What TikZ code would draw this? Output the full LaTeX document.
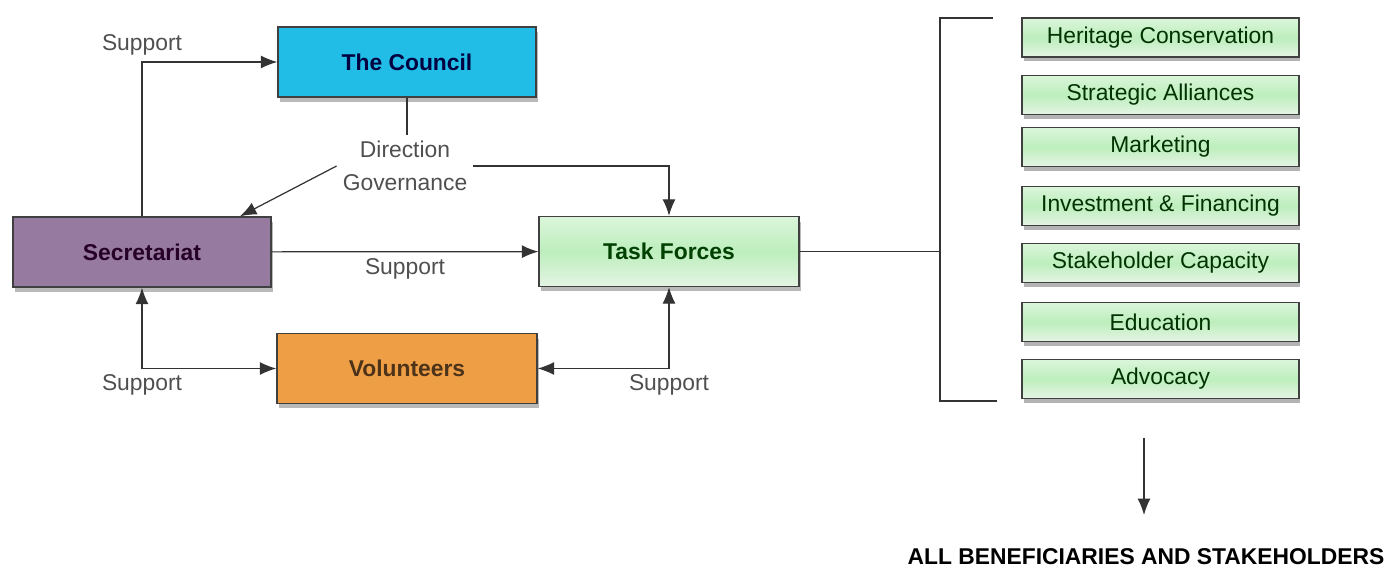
\documentclass[tikz,border=0pt]{standalone}
\usepackage{fontspec}
\setmainfont{Liberation Sans}
\usetikzlibrary{arrows.meta,shadows,calc}
\definecolor{councilblue}{HTML}{22BDE6}
\definecolor{secpurple}{HTML}{977AA0}
\definecolor{volorange}{HTML}{EE9E45}
\definecolor{mintgreen}{HTML}{BDEEBD}
\definecolor{linegray}{HTML}{333333}
\definecolor{lblgray}{HTML}{4F4F4F}
\newcommand{\bodyfont}{\fontsize{13}{19}\selectfont}

\begin{document}
\begin{tikzpicture}[>={Latex[length=3.3mm,width=2.6mm]},x=0.02cm,y=-0.02cm,font=\bodyfont,
	greenfill/.style={top color=mintgreen!55,bottom color=black!6!mintgreen!35,middle color=mintgreen},
	box/.style={draw=black!75,line width=0.8pt,minimum width=5.16cm,minimum height=1.4cm,
		font=\bodyfont\bfseries,drop shadow={shadow xshift=0.04cm,shadow yshift=-0.1cm,opacity=0.55}},
	subbox/.style={draw=black!75,line width=0.7pt,minimum width=5.54cm,minimum height=0.78cm,
		text=green!20!black,greenfill,drop shadow={shadow xshift=0.03cm,shadow yshift=-0.09cm,opacity=0.6}},
	lbl/.style={text=lblgray},
	conn/.style={draw=linegray,line width=0.7pt}]
	\useasboundingbox (0,0) rectangle (1390,567);
	\node[box,fill=councilblue,text=blue!25!black] (council) at (407,62) {The Council};
	\node[box,fill=secpurple,text=violet!30!black] (sec) at (142,252) {Secretariat};
	\node[box,greenfill,text=green!25!black,minimum width=5.2cm] (task) at (669,251.5) {Task Forces};
	\node[box,fill=volorange,text=brown!40!black,minimum width=5.2cm] (vol) at (407,368.5) {Volunteers};
	\node[lbl,align=center] (gov) at (405,166) {Direction\\Governance};
	\foreach \nm/\y/\txt in {heritage/37.5/Heritage Conservation,alliances/95/Strategic Alliances,
		marketing/147/Marketing,invest/206/Investment \& Financing,capacity/263/Stakeholder Capacity,
		education/322/Education,advocacy/379/Advocacy}
		{\node[subbox] (\nm) at (1160.5,\y) {\txt};
		};
	\node[font=\bodyfont\bfseries] (all) at (1146,557) {ALL BENEFICIARIES AND STAKEHOLDERS};
	\coordinate (brtop) at (940,18);
	\coordinate (brbot) at (940,401);
	\coordinate (arrtop) at (1144,438);
	\coordinate (arrbot) at (1144,515);
	\draw[conn,->] (sec.north) |- (council.west) node[lbl,pos=.5,above] {Support};
	\draw[conn] (council.south) -- (council.south |- gov.north);
	\draw[conn,->] (gov.west) -- ([xshift=1.96cm]sec.north);
	\draw[conn,->] (gov.east) -| (task.north);
	\draw[conn,->] (sec) -- (task) node[lbl,midway,below] {Support};
	\draw[conn,<->] (sec.south) |- (vol.west) node[lbl,pos=.5,below] {Support};
	\draw[conn,<->] (task.south) |- (vol.east) node[lbl,pos=.5,below] {Support};
	\draw[conn] (task.east) -- (brtop |- task.east);
	\draw[conn] ([xshift=1.06cm]brtop) -- (brtop) -- (brbot) -- ([xshift=1.14cm]brbot);
	\draw[conn,->] (arrtop) -- (arrbot);
\end{tikzpicture}
\end{document}
